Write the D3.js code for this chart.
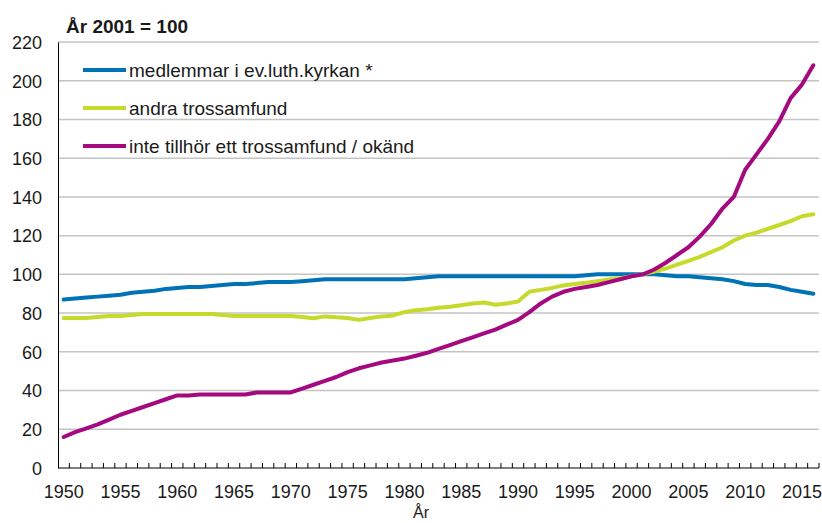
<!DOCTYPE html>
<html>
<head>
<meta charset="utf-8">
<script src="https://cdn.jsdelivr.net/npm/d3@7"></script>
<style>
	body { margin: 0; background: #fff; }
	text { font-family: "Liberation Sans", Arial, sans-serif; fill: #1a1a1a; }
	.grid line { stroke: #c4c4c4; stroke-width: 1.5; }
	.series { fill: none; stroke-width: 4; stroke-linejoin: round; stroke-linecap: round; }
</style>
</head>
<body>
<script>
//DATA
var years = d3.range(1950, 2017); //1950..2016
var yTicks = [0, 20, 40, 60, 80, 100, 120, 140, 160, 180, 200, 220];
var xLabels = [1950, 1955, 1960, 1965, 1970, 1975, 1980, 1985, 1990, 1995, 2000, 2005, 2010, 2015];
var seriesNames = ["medlemmar i ev.luth.kyrkan *", "andra trossamfund", "inte tillhör ett trossamfund / okänd"];
var seriesColors = ["#0073b6", "#c5da2a", "#a4097f"];

var lutheran = [
	87, 87.5, 88, 88.5, 89, 89.5, 90.5, 91, 91.5, 92.5,
	93, 93.5, 93.5, 94, 94.5, 95, 95, 95.5, 96, 96,
	96, 96.5, 97, 97.5, 97.5, 97.5, 97.5, 97.5, 97.5, 97.5,
	97.5, 98, 98.5, 99, 99, 99, 99, 99, 99, 99,
	99, 99, 99, 99, 99, 99, 99.5, 100, 100, 100,
	100, 100, 100, 99.5, 99, 99, 98.5, 98, 97.5, 96.5,
	95, 94.5, 94.5, 93.5, 92, 91, 90
];
var otherFaith = [
	77.5, 77.5, 77.5, 78, 78.5, 78.5, 79, 79.5, 79.5, 79.5,
	79.5, 79.5, 79.5, 79.5, 79, 78.5, 78.5, 78.5, 78.5, 78.5,
	78.5, 78, 77.3, 78.3, 77.8, 77.5, 76.5, 77.5, 78.3, 78.8,
	80.5, 81.5, 82, 82.8, 83.3, 84, 85, 85.5, 84.3, 85,
	86, 91, 92, 93, 94.3, 95, 95.7, 96.5, 97.3, 98,
	99, 100, 101.5, 103, 105, 107, 109, 111.5, 114, 117.5,
	120, 121.5, 123.5, 125.5, 127.5, 130, 131
];
var noFaith = [
	16, 18.5, 20.5, 22.5, 25, 27.5, 29.5, 31.5, 33.5, 35.5,
	37.5, 37.5, 38, 38, 38, 38, 38, 39, 39, 39,
	39, 41, 43, 45, 47, 49.5, 51.5, 53, 54.5, 55.5,
	56.5, 58, 59.5, 61.5, 63.5, 65.5, 67.5, 69.5, 71.5, 74,
	76.5, 80.5, 85, 88.5, 91, 92.5, 93.5, 94.5, 96, 97.5,
	99, 100, 102.5, 106, 110, 114, 119.5, 126, 134, 140,
	154, 162, 170, 179, 191, 198, 208
];

window.onload = drawChart();

function drawChart(){

	//SVG CANVAS
	var w = 822;
	var h = 523;
	var left = 58, right = 819, top = 42, bottom = 468;

	var svg = d3.select("body")
		.append("svg")
		.attr("width", w)
		.attr("height", h);

	//scales - category axis, points sit in the middle of each band
	var x = d3.scaleBand()
		.domain(years)
		.range([left, right])
		.padding(0);

	var y = d3.scaleLinear()
		.domain([0, 220])
		.range([bottom, top]);

	//horizontal gridlines
	svg.append("g")
		.attr("class", "grid")
		.selectAll("line")
		.data(yTicks.filter(function(d){ return d > 0; }))
		.enter()
		.append("line")
		.attr("x1", left)
		.attr("x2", right)
		.attr("y1", function(d){ return y(d); })
		.attr("y2", function(d){ return y(d); });

	//y axis
	var yAxis = svg.append("g")
		.attr("transform", "translate(" + left + ",0)")
		.call(d3.axisLeft(y).tickValues(yTicks).tickSize(0).tickPadding(16));
	yAxis.select(".domain").attr("stroke", "#000");
	yAxis.selectAll("text").style("font-size", "18px").attr("dy", "0.35em");

	//x axis: tick marks between categories, labels every fifth year
	var xAxis = svg.append("g")
		.attr("transform", "translate(0," + bottom + ")");
	xAxis.append("line")
		.attr("x1", left)
		.attr("x2", right)
		.attr("stroke", "#000");
	xAxis.selectAll(".tick")
		.data(years.slice(1).concat([2017]))
		.enter()
		.append("line")
		.attr("x1", function(d){ return x(d - 1) + x.bandwidth(); })
		.attr("x2", function(d){ return x(d - 1) + x.bandwidth(); })
		.attr("y1", 0)
		.attr("y2", -5)
		.attr("stroke", "#000");
	xAxis.selectAll(".lbl")
		.data(xLabels)
		.enter()
		.append("text")
		.attr("x", function(d){ return x(d) + x.bandwidth() / 2; })
		.attr("y", 30)
		.attr("text-anchor", "middle")
		.style("font-size", "18px")
		.text(function(d){ return d; });

	//axis title and unit note
	svg.append("text")
		.attr("x", 421)
		.attr("y", 518)
		.attr("text-anchor", "middle")
		.style("font-size", "16px")
		.text("År");

	svg.append("text")
		.attr("x", 66)
		.attr("y", 33)
		.style("font-size", "19px")
		.style("font-weight", "bold")
		.text("År 2001 = 100");

	//LINES
	var line = d3.line()
		.x(function(d, i){ return x(years[i]) + x.bandwidth() / 2; })
		.y(function(d){ return y(d); });

	var allSeries = [lutheran, otherFaith, noFaith];

	svg.selectAll(".series")
		.data(allSeries)
		.enter()
		.append("path")
		.attr("class", "series")
		.attr("stroke", function(d, i){ return seriesColors[i]; })
		.attr("d", line);

	//LEGEND
	var legend = svg.selectAll(".legend")
		.data(seriesNames)
		.enter()
		.append("g")
		.attr("transform", function(d, i){ return "translate(83," + (70 + i * 38) + ")"; });

	legend.append("line")
		.attr("x1", 0)
		.attr("x2", 43)
		.attr("stroke-width", 4)
		.attr("stroke", function(d, i){ return seriesColors[i]; });

	legend.append("text")
		.attr("x", 46)
		.attr("dy", "0.35em")
		.style("font-size", "19px")
		.text(function(d){ return d; });
};
</script>
</body>
</html>
